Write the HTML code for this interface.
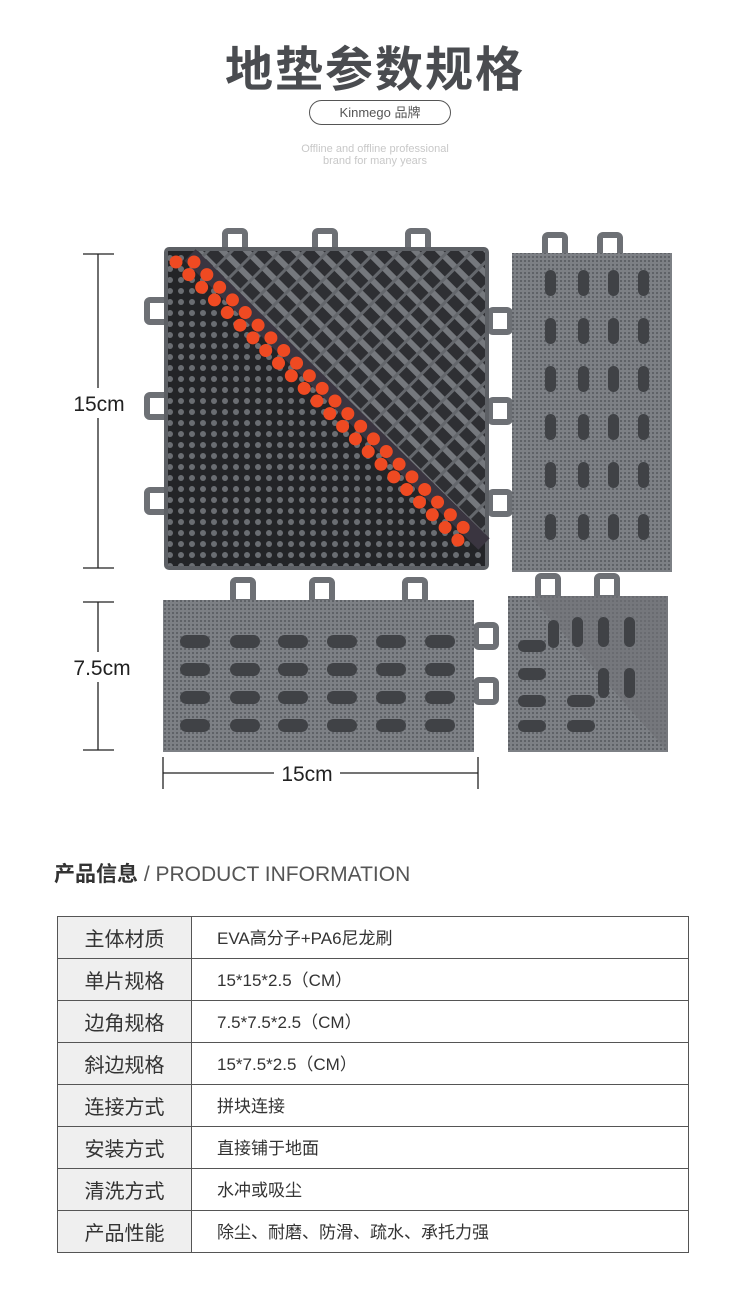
<!DOCTYPE html>
<html><head><meta charset="utf-8">
<style>
body{margin:0;background:#fff;width:750px;height:1292px;position:relative;overflow:hidden;font-family:"Liberation Sans","Noto Sans CJK SC",sans-serif;}
.t{position:absolute;left:0;width:750px;text-align:center}
table{position:absolute;left:57px;top:916px;width:632px;border-collapse:collapse;}
td{border:1px solid #555;height:42px;line-height:20px;font-size:17px;color:#333;padding:0;box-sizing:border-box}
td.l{background:#efefef;width:134px;text-align:center;font-size:20px;color:#333;padding-top:4px}
td.r{padding-left:25px;padding-top:2px}
</style></head><body>
<div class="t" style="top:30px;font-size:48px;font-weight:bold;color:#4a4c50;letter-spacing:2px">地垫参数规格</div>
<div style="position:absolute;left:309px;top:100px;width:140px;height:23px;border:1.5px solid #555;border-radius:13px;text-align:center;font-size:13px;line-height:23px;color:#555">Kinmego 品牌</div>
<div class="t" style="top:143px;font-size:11px;line-height:12px;color:#c8c8c8">Offline and offline professional<br>brand for many years</div>

<svg style="position:absolute;left:0;top:0" width="750" height="800">
<defs>
<pattern id="dots" width="11" height="11" patternUnits="userSpaceOnUse"><rect width="11" height="11" fill="#232427"/><circle cx="5" cy="5" r="3" fill="#6a6d72"/></pattern>
<pattern id="lat" width="17" height="17" patternUnits="userSpaceOnUse" patternTransform="rotate(45)"><rect width="17" height="17" fill="#2e2f33"/><rect x="0" y="0" width="17" height="6" fill="#75787d"/><rect x="0" y="0" width="3" height="17" fill="#64676c"/></pattern>
<pattern id="tex" width="4" height="4" patternUnits="userSpaceOnUse"><rect width="4" height="4" fill="#7d8085"/><rect width="2" height="2" fill="#5f6267"/></pattern>
<clipPath id="up"><polygon points="195,248 488,248 488,540"/></clipPath>
<g id="col"><rect x="0" y="270" width="11" height="26" rx="5.5"/><rect x="0" y="318" width="11" height="26" rx="5.5"/><rect x="0" y="366" width="11" height="26" rx="5.5"/><rect x="0" y="414" width="11" height="26" rx="5.5"/><rect x="0" y="462" width="11" height="26" rx="5.5"/><rect x="0" y="514" width="11" height="26" rx="5.5"/></g>
<g id="row"><rect x="180" y="635" width="30" height="13" rx="6.5"/><rect x="230" y="635" width="30" height="13" rx="6.5"/><rect x="278" y="635" width="30" height="13" rx="6.5"/><rect x="327" y="635" width="30" height="13" rx="6.5"/><rect x="376" y="635" width="30" height="13" rx="6.5"/><rect x="425" y="635" width="30" height="13" rx="6.5"/></g>
</defs>
<g fill="none" stroke="#6d7075" stroke-width="6">
<rect x="225" y="231" width="20" height="22" rx="3"/><rect x="315" y="231" width="20" height="22" rx="3"/><rect x="408" y="231" width="20" height="22" rx="3"/>
<rect x="147" y="300" width="20" height="22" rx="3"/><rect x="147" y="395" width="20" height="22" rx="3"/><rect x="147" y="490" width="20" height="22" rx="3"/>
<rect x="490" y="310" width="20" height="22" rx="3"/><rect x="490" y="400" width="20" height="22" rx="3"/><rect x="490" y="492" width="20" height="22" rx="3"/>
<rect x="545" y="235" width="20" height="22" rx="3"/><rect x="600" y="235" width="20" height="22" rx="3"/>
<rect x="233" y="580" width="20" height="22" rx="3"/><rect x="312" y="580" width="20" height="22" rx="3"/><rect x="405" y="580" width="20" height="22" rx="3"/>
<rect x="476" y="625" width="20" height="22" rx="3"/><rect x="476" y="680" width="20" height="22" rx="3"/>
<rect x="538" y="576" width="20" height="22" rx="3"/><rect x="597" y="576" width="20" height="22" rx="3"/>
</g>
<rect x="164" y="247" width="325" height="323" rx="5" fill="#5d6065"/>
<rect x="168" y="251" width="317" height="315" fill="url(#dots)"/>
<g clip-path="url(#up)"><rect x="168" y="251" width="317" height="315" fill="url(#lat)"/></g>
<line x1="190" y1="255" x2="484" y2="544" stroke="#3a3540" stroke-width="16"/>
<g stroke="#ef4a22" stroke-linecap="round" stroke-dasharray="0 18" stroke-width="13">
<line x1="176" y1="262" x2="470" y2="552"/><line x1="194" y1="262" x2="476" y2="540"/>
</g>
<rect x="512" y="253" width="160" height="319" fill="url(#tex)"/>
<g fill="#404246">
<use href="#col" x="545"/><use href="#col" x="578"/><use href="#col" x="608"/><use href="#col" x="638"/>
</g>
<rect x="163" y="600" width="311" height="152" fill="url(#tex)"/>
<g fill="#404246">
<use href="#row"/><use href="#row" y="28"/><use href="#row" y="56"/><use href="#row" y="84"/>
</g>
<rect x="508" y="596" width="160" height="156" fill="url(#tex)"/>
<polygon points="530,596 668,596 668,752" fill="#6f7277" opacity="0.6"/>
<g fill="#404246">
<rect x="548" y="620" width="11" height="28" rx="5.5"/><rect x="572" y="617" width="11" height="30" rx="5.5"/><rect x="598" y="617" width="11" height="30" rx="5.5"/><rect x="624" y="617" width="11" height="30" rx="5.5"/>
<rect x="598" y="668" width="11" height="30" rx="5.5"/><rect x="624" y="668" width="11" height="30" rx="5.5"/>
<rect x="518" y="640" width="28" height="12" rx="6"/><rect x="518" y="668" width="28" height="12" rx="6"/><rect x="518" y="695" width="28" height="12" rx="6"/><rect x="518" y="720" width="28" height="12" rx="6"/><rect x="567" y="695" width="28" height="12" rx="6"/><rect x="567" y="720" width="28" height="12" rx="6"/>
</g>
<g stroke="#222" stroke-width="1.3">
<line x1="98" y1="254" x2="98" y2="568"/><line x1="83" y1="254" x2="114" y2="254"/><line x1="83" y1="568" x2="114" y2="568"/>
<line x1="98" y1="602" x2="98" y2="750"/><line x1="83" y1="602" x2="114" y2="602"/><line x1="83" y1="750" x2="114" y2="750"/>
<line x1="163" y1="773" x2="478" y2="773"/><line x1="163" y1="757" x2="163" y2="789"/><line x1="478" y1="757" x2="478" y2="789"/>
</g>
<rect x="66" y="388" width="66" height="30" fill="#fff"/>
<rect x="66" y="652" width="72" height="30" fill="#fff"/>
<rect x="274" y="762" width="66" height="24" fill="#fff"/>
<g font-size="21" fill="#222" text-anchor="middle" font-family="Liberation Sans,sans-serif">
<text x="99" y="411">15cm</text><text x="102" y="675">7.5cm</text><text x="307" y="781">15cm</text>
</g>
</svg>

<div style="position:absolute;left:54px;top:858px;font-size:21px;color:#333"><b>产品信息</b> <span style="color:#555">/ PRODUCT INFORMATION</span></div>
<table>
<tr><td class="l">主体材质</td><td class="r">EVA高分子+PA6尼龙刷</td></tr>
<tr><td class="l">单片规格</td><td class="r">15*15*2.5（CM）</td></tr>
<tr><td class="l">边角规格</td><td class="r">7.5*7.5*2.5（CM）</td></tr>
<tr><td class="l">斜边规格</td><td class="r">15*7.5*2.5（CM）</td></tr>
<tr><td class="l">连接方式</td><td class="r">拼块连接</td></tr>
<tr><td class="l">安装方式</td><td class="r">直接铺于地面</td></tr>
<tr><td class="l">清洗方式</td><td class="r">水冲或吸尘</td></tr>
<tr><td class="l">产品性能</td><td class="r">除尘、耐磨、防滑、疏水、承托力强</td></tr>
</table>
</body></html>
